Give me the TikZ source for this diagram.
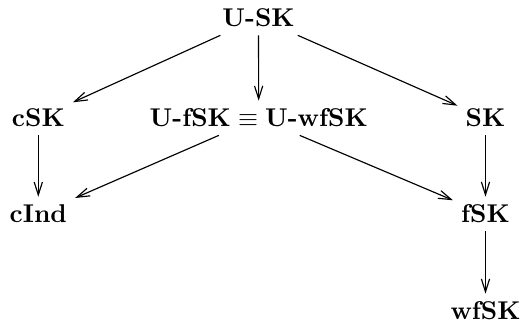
\documentclass[tikz,border=0pt]{standalone}
\usetikzlibrary{arrows.meta}
\begin{document}
\begin{tikzpicture}[x=0.389pt,y=-0.389pt,
  lbl/.style={font=\bfseries, inner sep=3pt},
  arr/.style={line width=0.45pt, -{Straight Barb[length=5pt,width=3.2pt]}}]
\useasboundingbox (0,0) rectangle (521,329);
\node[lbl] (usk) at (258.5,18) {U-SK};
\node[lbl] (csk) at (38.3,118) {cSK};
\node[lbl] (mid) at (258.7,118) {U-fSK${}\equiv{}$U-wfSK};
\node[lbl] (sk) at (485.5,118) {SK};
\node[lbl] (cind) at (38.3,214) {cInd};
\node[lbl] (fsk) at (485.5,214) {fSK};
\node[lbl] (wfsk) at (485.5,311) {wfSK};
\draw[arr] (usk) -- (csk);
\draw[arr] (usk) -- (mid);
\draw[arr] (usk) -- (sk);
\draw[arr] (csk) -- (cind);
\draw[arr] (sk) -- (fsk);
\draw[arr] (mid) -- (cind);
\draw[arr] (mid) -- (fsk);
\draw[arr] (fsk) -- (wfsk);
\end{tikzpicture}
\end{document}
